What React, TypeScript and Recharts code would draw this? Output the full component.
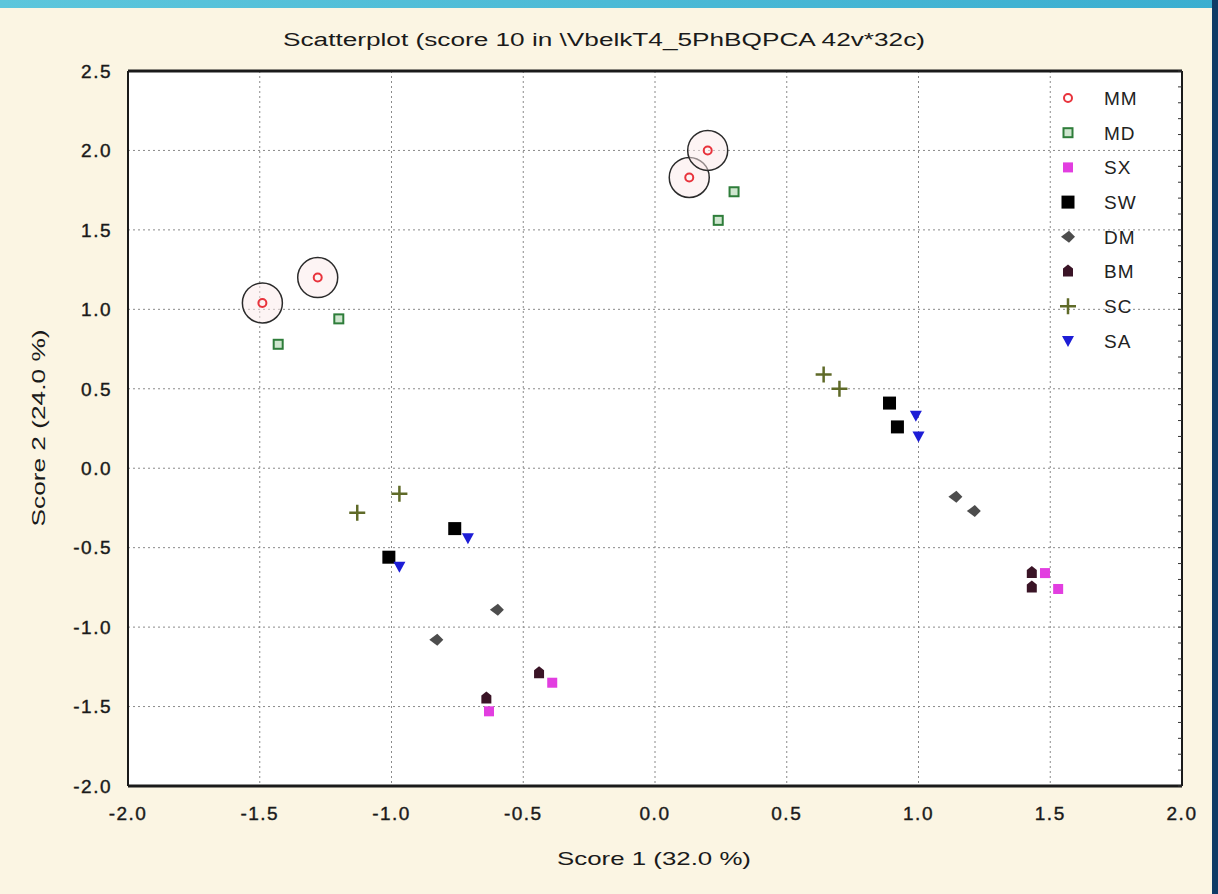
import { ScatterChart, Scatter, XAxis, YAxis, CartesianGrid, Legend } from 'recharts'

// PCA scores, one array per group
const MM = [
  { x: -1.49, y: 1.04 },
  { x: -1.28, y: 1.2 },
  { x: 0.13, y: 1.83 },
  { x: 0.2, y: 2.0 },
]
const MD = [
  { x: -1.43, y: 0.78 },
  { x: -1.2, y: 0.94 },
  { x: 0.24, y: 1.56 },
  { x: 0.3, y: 1.74 },
]
const SX = [
  { x: -0.63, y: -1.53 },
  { x: -0.39, y: -1.35 },
  { x: 1.48, y: -0.66 },
  { x: 1.53, y: -0.76 },
]
const SW = [
  { x: -1.01, y: -0.56 },
  { x: -0.76, y: -0.38 },
  { x: 0.89, y: 0.41 },
  { x: 0.92, y: 0.26 },
]
const DM = [
  { x: -0.83, y: -1.08 },
  { x: -0.6, y: -0.89 },
  { x: 1.14, y: -0.18 },
  { x: 1.21, y: -0.27 },
]
const BM = [
  { x: -0.64, y: -1.45 },
  { x: -0.44, y: -1.29 },
  { x: 1.43, y: -0.66 },
  { x: 1.43, y: -0.75 },
]
const SC = [
  { x: -1.13, y: -0.28 },
  { x: -0.97, y: -0.16 },
  { x: 0.64, y: 0.59 },
  { x: 0.7, y: 0.5 },
]
const SA = [
  { x: -0.97, y: -0.62 },
  { x: -0.71, y: -0.44 },
  { x: 0.99, y: 0.33 },
  { x: 1.0, y: 0.2 },
]

const xTicks = [-2, -1.5, -1, -0.5, 0, 0.5, 1, 1.5, 2]
const yTicks = [-2, -1.5, -1, -0.5, 0, 0.5, 1, 1.5, 2, 2.5]
const xMinor = Array.from({ length: 41 }, (_, i) => -2 + i * 0.1)
const yMinor = Array.from({ length: 46 }, (_, i) => -2 + i * 0.1)

const FONT = '"Liberation Sans", Arial, sans-serif'

type Mark = (p: { cx: number; cy: number; ring?: boolean }) => JSX.Element

const mmMark: Mark = ({ cx, cy, ring }) => (
  <g>
    {ring && <circle cx={cx} cy={cy} r={20} fill="#fbeaea" fillOpacity={0.5} stroke="#2b2b2b" strokeWidth={1.5} />}
    <circle cx={cx} cy={cy} r={4} fill="none" stroke="#e8333c" strokeWidth={2} />
  </g>
)
const mdMark: Mark = ({ cx, cy }) => (
  <rect x={cx - 4.5} y={cy - 4.5} width={9} height={9} fill="#cfe6cf" stroke="#2e7d3a" strokeWidth={2} />
)
const sxMark: Mark = ({ cx, cy }) => <rect x={cx - 5} y={cy - 5} width={10} height={10} fill="#e23ee0" />
const swMark: Mark = ({ cx, cy }) => <rect x={cx - 6.5} y={cy - 6.5} width={13} height={13} fill="#000" />
const dmMark: Mark = ({ cx, cy }) => (
  <path d={`M${cx - 7},${cy} L${cx + 1},${cy - 6} L${cx + 7},${cy} L${cx + 1},${cy + 6} Z`} fill="#4d4d4d" />
)
const bmMark: Mark = ({ cx, cy }) => (
  <path d={`M${cx - 5},${cy - 3} L${cx},${cy - 7} L${cx + 5},${cy - 3} L${cx + 5},${cy + 5} L${cx - 5},${cy + 5} Z`} fill="#3a1426" />
)
const scMark: Mark = ({ cx, cy }) => (
  <path d={`M${cx - 8},${cy} L${cx + 8},${cy} M${cx},${cy - 8} L${cx},${cy + 8}`} stroke="#5f6a28" strokeWidth={2.5} />
)
const saMark: Mark = ({ cx, cy }) => (
  <path d={`M${cx - 6},${cy - 5} L${cx + 6},${cy - 5} L${cx},${cy + 6} Z`} fill="#1d1dd6" />
)

const SERIES = [
  { name: 'MM', data: MM, mark: mmMark },
  { name: 'MD', data: MD, mark: mdMark },
  { name: 'SX', data: SX, mark: sxMark },
  { name: 'SW', data: SW, mark: swMark },
  { name: 'DM', data: DM, mark: dmMark },
  { name: 'BM', data: BM, mark: bmMark },
  { name: 'SC', data: SC, mark: scMark },
  { name: 'SA', data: SA, mark: saMark },
]

const fmt = (v: number) => v.toFixed(1)
const tickStyle = { fill: '#1a1a1a', fontSize: 19, fontFamily: FONT, letterSpacing: 1.5, stroke: '#1a1a1a', strokeWidth: 0.4 }
const emptyTick = () => <g />

const LegendBox = () => (
  <svg width={110} height={280}>
    {SERIES.map((s, i) => (
      <g key={s.name}>
        {s.mark({ cx: 14, cy: 16 + i * 34.7 })}
        <text x={50} y={16 + i * 34.7} dy="0.36em" fontSize={19} fontFamily={FONT} fill="#222" letterSpacing={1}>
          {s.name}
        </text>
      </g>
    ))}
  </svg>
)

const App = () => {
  return (
    <div style={{ position: 'absolute', left: 0, top: 0, width: 1218, height: 894, background: '#fbf5e3', overflow: 'hidden' }}>
      <div style={{ position: 'absolute', left: 0, top: 0, width: 1218, height: 8, background: 'linear-gradient(90deg,#5cc6dc,#3aaed0)' }} />
      <div style={{ position: 'absolute', left: 1212, top: 0, width: 6, height: 894, background: '#0f3b66' }} />
      <div style={{ position: 'absolute', left: 0, top: 0 }}>
        <ScatterChart width={1212} height={894} margin={{ top: 71, right: 30, bottom: 68, left: 68 }}>
          <CartesianGrid fill="#ffffff" stroke="#8a8a8a" strokeDasharray="2 3" />
          <XAxis
            type="number"
            dataKey="x"
            domain={[-2, 2]}
            ticks={xTicks}
            tickFormatter={fmt}
            height={40}
            tickLine={false}
            tickSize={6}
            tickMargin={15}
            axisLine={{ stroke: '#1a1a1a', strokeWidth: 3 }}
            tick={tickStyle}
          />
          <YAxis
            type="number"
            dataKey="y"
            domain={[-2, 2.5]}
            ticks={yTicks}
            tickFormatter={fmt}
            width={60}
            tickLine={false}
            tickSize={6}
            tickMargin={10}
            axisLine={{ stroke: '#1a1a1a', strokeWidth: 2 }}
            tick={tickStyle}
          />
          <XAxis
            xAxisId="top"
            orientation="top"
            type="number"
            domain={[-2, 2]}
            allowDataOverflow
            ticks={xMinor}
            interval={0}
            mirror
            height={2}
            tick={emptyTick}
            tickSize={4}
            tickLine={{ stroke: '#333' }}
            axisLine={{ stroke: '#1a1a1a', strokeWidth: 3 }}
          />
          <YAxis
            yAxisId="right"
            orientation="right"
            type="number"
            domain={[-2, 2.5]}
            allowDataOverflow
            ticks={yMinor}
            interval={0}
            mirror
            width={2}
            tick={emptyTick}
            tickSize={4}
            tickLine={{ stroke: '#333' }}
            axisLine={{ stroke: '#1a1a1a', strokeWidth: 2 }}
          />
          <Legend
            layout="vertical"
            align="center"
            verticalAlign="middle"
            content={LegendBox}
            wrapperStyle={{ position: 'absolute', left: 1054, top: 82, width: 110 }}
          />
          {SERIES.map((s) => (
            <Scatter
              key={s.name}
              name={s.name}
              data={s.data}
              isAnimationActive={false}
              shape={(p: any) => s.mark({ cx: p.cx, cy: p.cy, ring: true })}
            />
          ))}
        </ScatterChart>
      </div>
      <svg width={1218} height={894} style={{ position: 'absolute', left: 0, top: 0, pointerEvents: 'none' }}>
        <text x={604} y={46} textAnchor="middle" fontSize={18} fontFamily={FONT} fill="#1a1a1a" textLength={642} lengthAdjust="spacingAndGlyphs">
          {'Scatterplot (score 10 in \\VbelkT4_5PhBQPCA 42v*32c)'}
        </text>
        <text x={654} y={865} textAnchor="middle" fontSize={19} fontFamily={FONT} fill="#1a1a1a" textLength={194} lengthAdjust="spacingAndGlyphs">
          Score 1 (32.0 %)
        </text>
        <text
          x={0}
          y={0}
          transform="translate(45,428) rotate(-90)"
          textAnchor="middle"
          fontSize={19}
          fontFamily={FONT}
          fill="#1a1a1a"
          textLength={197}
          lengthAdjust="spacingAndGlyphs"
        >
          Score 2 (24.0 %)
        </text>
      </svg>
    </div>
  )
}

export default App
